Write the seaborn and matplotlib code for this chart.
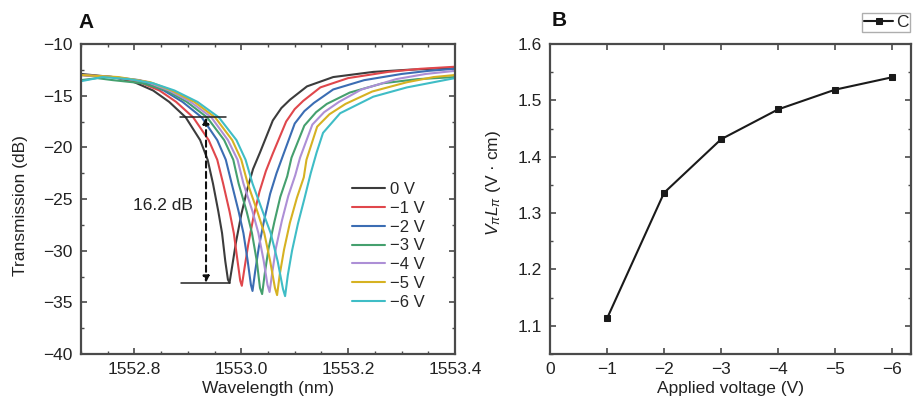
import matplotlib
matplotlib.use("Agg")
import matplotlib.pyplot as plt
from matplotlib.ticker import MultipleLocator
import seaborn as sns
import pandas as pd

# ------------------------------------------------------------------
# Panel A: transmission spectra
# ------------------------------------------------------------------
wl_0v = [1552.700, 1552.760, 1552.800, 1552.835, 1552.865, 1552.896, 1552.923, 1552.937,
         1552.947, 1552.957, 1552.964, 1552.970, 1552.975, 1552.978, 1552.983, 1552.990,
         1553.000, 1553.011, 1553.022, 1553.035, 1553.059, 1553.075, 1553.091, 1553.123,
         1553.172, 1553.247, 1553.310, 1553.400]
tr_0v = [-12.9, -13.2, -13.7, -14.5, -15.6, -17.1, -19.3, -21.2, -23.5, -26.2, -28.3, -31.0,
         -32.8, -33.1, -31.5, -29.2, -26.5, -24.1, -22.1, -20.5, -17.4, -16.2, -15.4, -14.1,
         -13.2, -12.7, -12.5, -12.3]

wl_1v = [1552.700, 1552.760, 1552.805, 1552.847, 1552.878, 1552.910, 1552.939, 1552.955,
         1552.966, 1552.978, 1552.986, 1552.993, 1552.998, 1553.001, 1553.006, 1553.013,
         1553.023, 1553.034, 1553.046, 1553.059, 1553.084, 1553.100, 1553.116, 1553.148,
         1553.200, 1553.275, 1553.335, 1553.400]
tr_1v = [-13.0, -13.2, -13.6, -14.5, -15.6, -17.1, -19.3, -21.2, -23.5, -26.2, -28.3, -31.0,
         -32.9, -33.4, -31.7, -29.4, -26.7, -24.3, -22.3, -20.6, -17.5, -16.3, -15.5, -14.2,
         -13.3, -12.7, -12.4, -12.2]

wl_2v = [1552.700, 1552.760, 1552.810, 1552.855, 1552.890, 1552.926, 1552.955, 1552.971,
         1552.982, 1552.995, 1553.004, 1553.012, 1553.018, 1553.021, 1553.026, 1553.033,
         1553.043, 1553.054, 1553.066, 1553.078, 1553.100, 1553.118, 1553.136, 1553.172,
         1553.230, 1553.300, 1553.350, 1553.400]
tr_2v = [-13.0, -13.2, -13.5, -14.5, -15.6, -17.1, -19.3, -21.2, -23.5, -26.2, -28.3, -31.0,
         -33.3, -33.9, -32.0, -29.6, -27.0, -24.5, -22.5, -20.8, -17.7, -16.5, -15.7, -14.4,
         -13.5, -12.9, -12.6, -12.4]

wl_3v = [1552.700, 1552.730, 1552.760, 1552.815, 1552.860, 1552.898, 1552.936, 1552.968,
         1552.985, 1552.995, 1553.010, 1553.020, 1553.029, 1553.035, 1553.039, 1553.044,
         1553.051, 1553.062, 1553.073, 1553.086, 1553.094, 1553.118, 1553.140, 1553.160,
         1553.203, 1553.265, 1553.330, 1553.400]
tr_3v = [-13.5, -13.3, -13.5, -13.8, -14.5, -15.6, -17.1, -19.3, -21.2, -23.5, -26.2, -28.3,
         -31.0, -33.6, -34.2, -32.2, -29.8, -27.2, -24.8, -22.8, -21.0, -17.9, -16.6, -15.8,
         -14.7, -13.8, -13.4, -13.2]

wl_4v = [1552.700, 1552.760, 1552.820, 1552.865, 1552.905, 1552.944, 1552.975, 1552.993,
         1553.004, 1553.021, 1553.032, 1553.042, 1553.049, 1553.053, 1553.058, 1553.065,
         1553.076, 1553.088, 1553.101, 1553.110, 1553.133, 1553.155, 1553.183, 1553.225,
         1553.290, 1553.345, 1553.400]
tr_4v = [-13.0, -13.2, -13.6, -14.5, -15.6, -17.1, -19.3, -21.2, -23.5, -26.2, -28.3, -31.0,
         -33.3, -34.0, -32.1, -29.7, -27.1, -24.7, -22.7, -21.0, -17.8, -16.6, -15.6, -14.4,
         -13.4, -12.9, -12.6]

wl_5v = [1552.700, 1552.770, 1552.830, 1552.870, 1552.912, 1552.951, 1552.983, 1553.000,
         1553.012, 1553.030, 1553.043, 1553.054, 1553.063, 1553.067, 1553.072, 1553.080,
         1553.091, 1553.104, 1553.117, 1553.122, 1553.142, 1553.165, 1553.195, 1553.245,
         1553.310, 1553.360, 1553.400]
tr_5v = [-13.0, -13.2, -13.7, -14.5, -15.6, -17.1, -19.3, -21.2, -23.5, -26.2, -28.3, -31.0,
         -33.6, -34.3, -32.3, -29.9, -27.3, -24.9, -22.9, -21.2, -18.0, -16.8, -15.8, -14.6,
         -13.7, -13.2, -13.0]

wl_6v = [1552.700, 1552.740, 1552.790, 1552.835, 1552.875, 1552.918, 1552.958, 1552.991,
         1553.008, 1553.021, 1553.040, 1553.055, 1553.068, 1553.078, 1553.082, 1553.087,
         1553.095, 1553.106, 1553.118, 1553.130, 1553.141, 1553.153, 1553.185, 1553.247,
         1553.310, 1553.400]
tr_6v = [-13.6, -13.2, -13.4, -13.8, -14.5, -15.6, -17.1, -19.3, -21.2, -23.5, -26.2, -28.3,
         -31.0, -33.7, -34.4, -32.4, -30.0, -27.4, -25.0, -22.5, -20.5, -18.6, -16.7, -15.1,
         -14.2, -13.3]

voltage_labels = ["0 V", "\u22121 V", "\u22122 V", "\u22123 V", "\u22124 V", "\u22125 V", "\u22126 V"]
spectra_wl = [wl_0v, wl_1v, wl_2v, wl_3v, wl_4v, wl_5v, wl_6v]
spectra_tr = [tr_0v, tr_1v, tr_2v, tr_3v, tr_4v, tr_5v, tr_6v]
line_colors = ["#3c3c3c", "#e0474c", "#3b6db3", "#45a06e", "#ad8fd6", "#d6b222", "#3fbdc6"]

# extinction annotation (16.2 dB)
ext_top = -17.1
ext_bottom = -33.1
ext_arrow_wl = 1552.934
ext_top_span = [1552.885, 1552.972]
ext_bottom_span = [1552.888, 1552.979]

# ------------------------------------------------------------------
# Panel B: VpiLpi vs applied voltage
# ------------------------------------------------------------------
applied_voltage = [-1, -2, -3, -4, -5, -6]
vpi_lpi = [1.113, 1.336, 1.431, 1.484, 1.519, 1.541]

sns.set_theme(style="ticks")
plt.rcParams["font.family"] = ["Liberation Sans", "DejaVu Sans"]
plt.rcParams["mathtext.fontset"] = "custom"
plt.rcParams["mathtext.it"] = "Liberation Sans:italic"
plt.rcParams["mathtext.rm"] = "Liberation Sans"

FS = 12.5
spine_col = "#4a4a4a"
text_col = "#222222"

fig = plt.figure(figsize=(9.14, 4.12), dpi=100)
ax1 = fig.add_axes([81 / 914, 58 / 412, 374 / 914, 310 / 412])
ax2 = fig.add_axes([550 / 914, 58 / 412, 361 / 914, 310 / 412])

# ---- panel A
rows = []
for lab, wl, tr in zip(voltage_labels, spectra_wl, spectra_tr):
    for w, t in zip(wl, tr):
        rows.append({"Voltage": lab, "Wavelength": w, "Transmission": t})
spec_df = pd.DataFrame(rows)

for lab, col in zip(voltage_labels, line_colors):
    sub = spec_df[spec_df["Voltage"] == lab]
    sns.lineplot(data=sub, x="Wavelength", y="Transmission", color=col, lw=1.5,
                 sort=False, estimator=None, label=lab, ax=ax1)

ax1.plot(ext_top_span, [ext_top, ext_top], color="#222222", lw=1.1)
ax1.plot(ext_bottom_span, [ext_bottom, ext_bottom], color="#222222", lw=1.1)
ax1.annotate("", xy=(ext_arrow_wl, ext_bottom), xytext=(ext_arrow_wl, ext_top),
             arrowprops=dict(arrowstyle="<|-|>", color="#111111", lw=1.5,
                             linestyle=(0, (3, 2)), mutation_scale=9,
                             shrinkA=0, shrinkB=0))
ax1.text(1552.910, -25.6, "16.2 dB", ha="right", va="center", fontsize=FS, color=text_col)

ax1.set_xlim(1552.7, 1553.4)
ax1.set_ylim(-40, -10)
ax1.xaxis.set_major_locator(MultipleLocator(0.2))
ax1.xaxis.set_minor_locator(MultipleLocator(0.05))
ax1.yaxis.set_major_locator(MultipleLocator(5))
ax1.yaxis.set_minor_locator(MultipleLocator(2.5))
ax1.set_xticks([1552.8, 1553.0, 1553.2, 1553.4])
ax1.set_xticklabels(["1552.8", "1553.0", "1553.2", "1553.4"])
ax1.set_xlabel("Wavelength (nm)", fontsize=FS, color=text_col, labelpad=3)
ax1.set_ylabel("Transmission (dB)", fontsize=FS, color=text_col)
ax1.yaxis.set_label_coords(-0.142, 0.48)
ax1.legend(loc="upper left", bbox_to_anchor=(0.725, 0.555), frameon=False, fontsize=12,
           handlelength=2.0, handletextpad=0.3, labelspacing=0.23, borderaxespad=0,
           borderpad=0)

# ---- panel B
volt_df = pd.DataFrame({"Applied voltage": applied_voltage, "VpiLpi": vpi_lpi})
sns.lineplot(data=volt_df, x="Applied voltage", y="VpiLpi", color="#1a1a1a", lw=1.5,
             marker="s", markersize=5, markeredgecolor="#1a1a1a", sort=False,
             estimator=None, label="C", ax=ax2)
ax2.set_xlim(0, -6.33)
ax2.set_ylim(1.05, 1.6)
ax2.set_xticks([0, -1, -2, -3, -4, -5, -6])
ax2.set_xticklabels(["0", "\u22121", "\u22122", "\u22123", "\u22124", "\u22125", "\u22126"])
ax2.yaxis.set_major_locator(MultipleLocator(0.1))
ax2.yaxis.set_minor_locator(MultipleLocator(0.05))
ax2.set_xlabel("Applied voltage (V)", fontsize=FS, color=text_col, labelpad=3)
ax2.set_ylabel(r"$V_{\pi}L_{\pi}$ (V · cm)", fontsize=FS, color=text_col)
ax2.yaxis.set_label_coords(-0.13, 0.55)
leg = ax2.legend(loc="lower right", bbox_to_anchor=(0.998, 1.04), frameon=True, fancybox=False,
                 fontsize=FS, handlelength=1.7, handletextpad=0.15, borderpad=0.1,
                 borderaxespad=0)
leg.get_frame().set_edgecolor("#9a9a9a")
leg.get_frame().set_linewidth(1.0)

for ax in (ax1, ax2):
    for sp in ax.spines.values():
        sp.set_visible(True)
        sp.set_color(spine_col)
        sp.set_linewidth(1.6)
    ax.tick_params(which="both", direction="in", top=True, right=True, color=spine_col,
                   labelsize=FS, labelcolor=text_col)
    ax.tick_params(which="major", length=4, width=1.2, pad=6)
    ax.tick_params(which="minor", length=2.5, width=1.0)

fig.text(78 / 914, 1 - 22 / 412, "A", fontsize=15, fontweight="bold", va="center", color="#111111")
fig.text(552 / 914, 1 - 21 / 412, "B", fontsize=15, fontweight="bold", va="center", color="#111111")

fig.savefig("out.png", dpi=100)
